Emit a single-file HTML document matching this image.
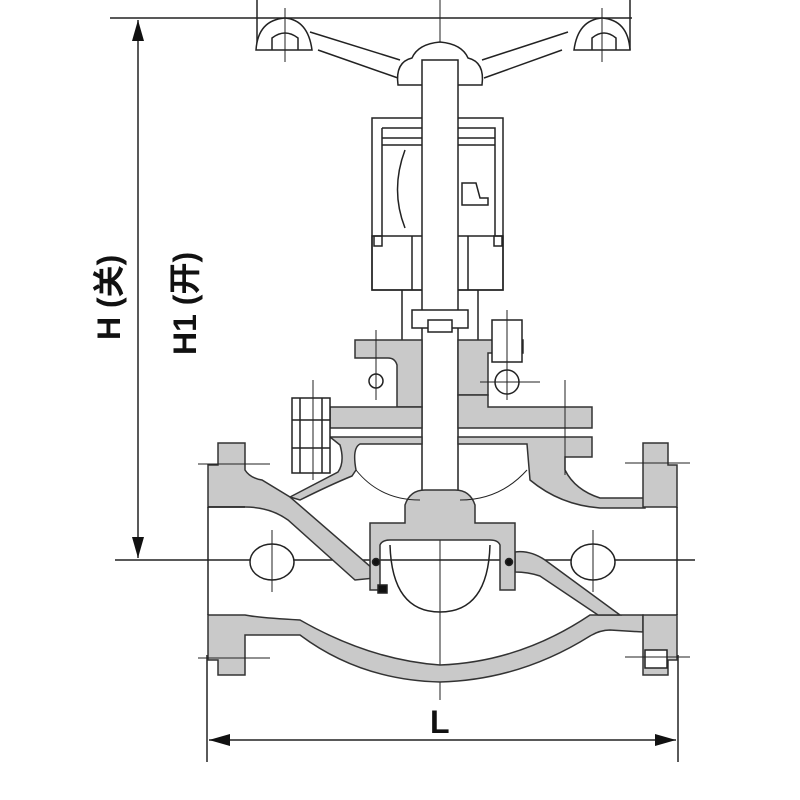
<!DOCTYPE html>
<html><head><meta charset="utf-8"><style>
html,body{margin:0;padding:0;background:#fff;width:800px;height:800px;overflow:hidden}
</style></head><body>
<svg width="800" height="800" viewBox="0 0 800 800" xmlns="http://www.w3.org/2000/svg" font-family="Liberation Sans, Noto Sans CJK SC, sans-serif">
<defs>
<marker id="a" markerWidth="14" markerHeight="8" refX="14" refY="4" orient="auto"><path d="M0,0 L14,4 L0,8 Z" fill="#111"/></marker>
</defs>
<g stroke="#222" stroke-width="1.5" fill="none">
<!-- dimension lines -->
<line x1="110" y1="18" x2="632" y2="18"/>
<line x1="115" y1="560" x2="695" y2="560"/>
<line x1="138" y1="300" x2="138" y2="20" marker-end="url(#a)"/>
<line x1="138" y1="300" x2="138" y2="558" marker-end="url(#a)"/>
<line x1="207" y1="655" x2="207" y2="762"/>
<line x1="678" y1="655" x2="678" y2="762"/>
<line x1="440" y1="740" x2="209" y2="740" marker-end="url(#a)"/>
<line x1="440" y1="740" x2="676" y2="740" marker-end="url(#a)"/>
<line x1="440" y1="0" x2="440" y2="700" stroke-width="1"/>

<!-- handwheel -->
<line x1="257" y1="0" x2="257" y2="50"/><line x1="630" y1="0" x2="630" y2="50"/>
<path d="M256,50 Q258,20 285,18 Q308,20 312,50 Z" fill="#fff"/>
<path d="M574,50 Q578,20 602,18 Q628,20 630,50 Z" fill="#fff"/>
<path d="M272,50 V38 Q285,28 298,38 V50"/><path d="M592,50 V38 Q604,28 616,38 V50"/>
<path d="M310,32 L400,60 M318,50 L398,78 M568,32 L482,60 M562,50 L484,78"/>
<path d="M398,85 Q395,62 412,58 Q418,44 440,42 Q462,44 468,58 Q485,62 482,85 Z" fill="#fff"/>
<line x1="285" y1="8" x2="285" y2="62" stroke-width="1"/><line x1="602" y1="8" x2="602" y2="62" stroke-width="1"/>

<!-- yoke -->
<rect x="372" y="118" width="131" height="172" fill="#fff"/>
<path d="M382,128 H495 V236 M382,128 V236 M382,138 H495 M382,145 H495"/>
<rect x="372" y="236" width="131" height="54"/>
<path d="M405,150 Q390,190 405,228"/>
<path d="M462,183 H476 L480,198 H488 V205 H462 Z"/>
<rect x="374" y="236" width="8" height="10"/><rect x="494" y="236" width="8" height="10"/>
<path d="M402,290 V340 M478,290 V340 M412,236 V290 M468,236 V290"/>
<!-- stem -->
<rect x="422" y="60" width="36" height="440" fill="#fff"/>
<rect x="412" y="310" width="56" height="18" fill="#fff"/>
<rect x="428" y="320" width="24" height="12" fill="#fff"/>

<g fill="#c9c9c9" stroke="#333">
<path d="M355,340 H422 V407 H397 V365 Q395,358 388,358 H355 Z"/>
<path d="M458,340 H523 V353 H488 V395 H458 Z"/>
<path d="M330,407 H422 V428 H330 Z"/>
<path d="M458,395 H488 V407 H592 V428 H458 Z"/>
<path d="M330,437 H422 V444 H360 Q352,448 356,470 L352,476 Q330,485 300,500 L290,497 L338,472 Q345,462 340,445 Z"/>
<path d="M458,437 H592 V457 H565 V470 Q575,490 600,498 L645,498 V508 H600 Q560,505 530,480 L527,444 H458 Z"/>
<!-- left flange top + diagonal -->
<path d="M218,443 H245 V470 Q250,478 262,480 L290,497 L372,568 L375,578 L355,580 L288,520 Q270,507 245,507 H208 V465 H218 Z"/>
<!-- left flange bottom + bottom wall -->
<path d="M208,615 H245 Q260,618 300,620 Q370,660 440,665 Q520,662 590,615 L643,615 V632 L610,630 Q600,630 590,636 Q520,680 440,682 Q360,680 300,635 H245 V675 H218 V660 H208 Z"/>
<!-- right diagonal -->
<path d="M515,552 Q530,550 545,560 L620,615 H598 L540,576 Q528,572 515,572 Z"/>
<!-- right flange -->
<path d="M643,443 H668 V465 H677 V507 H643 Z"/>
<path d="M643,615 H677 V660 H668 V675 H643 Z"/>
<!-- disc -->
<path d="M370,523 H405 V505 Q410,490 425,490 H455 Q470,490 475,505 V523 H515 V590 H500 V545 Q498,540 490,540 H390 Q382,540 380,545 V590 H370 Z"/>
</g>
<line x1="208" y1="507" x2="208" y2="615"/><line x1="677" y1="507" x2="677" y2="615"/>
<line x1="208" y1="507" x2="245" y2="507"/>
<path d="M390,545 Q392,612 440,612 Q488,612 490,545"/>
<rect x="378" y="585" width="9" height="8" fill="#111"/>
<circle cx="376" cy="562" r="3.5" fill="#111"/><circle cx="509" cy="562" r="3.5" fill="#111"/>
<path d="M356,470 Q380,500 420,500 M527,470 Q500,500 460,500" stroke-width="1"/>
<!-- bolts -->
<rect x="292" y="398" width="38" height="75" fill="#fff"/>
<path d="M300,398 V473 M322,398 V473 M292,420 H330 M292,448 H330"/>
<rect x="492" y="320" width="30" height="42" fill="#fff"/>
<circle cx="507" cy="382" r="12" fill="#fff"/>
<circle cx="376" cy="381" r="7" fill="#fff"/>
<!-- bolt holes -->
<ellipse cx="272" cy="562" rx="22" ry="18" fill="#fff"/>
<ellipse cx="593" cy="562" rx="22" ry="18" fill="#fff"/>
<rect x="645" y="650" width="22" height="18" fill="#fff"/>
<g stroke-width="1">
<line x1="272" y1="530" x2="272" y2="592"/><line x1="593" y1="530" x2="593" y2="592"/>
<line x1="198" y1="464" x2="270" y2="464"/><line x1="625" y1="463" x2="690" y2="463"/>
<line x1="198" y1="658" x2="270" y2="658"/><line x1="625" y1="657" x2="690" y2="657"/>
<line x1="565" y1="380" x2="565" y2="475"/><line x1="376" y1="330" x2="376" y2="400"/>
<line x1="507" y1="310" x2="507" y2="400"/><line x1="480" y1="382" x2="540" y2="382"/>
<line x1="313" y1="380" x2="313" y2="480"/>
</g>
</g>
<g font-weight="bold" font-size="32" fill="#111">
<text transform="translate(120,340) rotate(-90)">H (关)</text>
<text transform="translate(196,355) rotate(-90)">H1 (开)</text>
<text x="430" y="733">L</text>
</g>
</svg>
</body></html>
